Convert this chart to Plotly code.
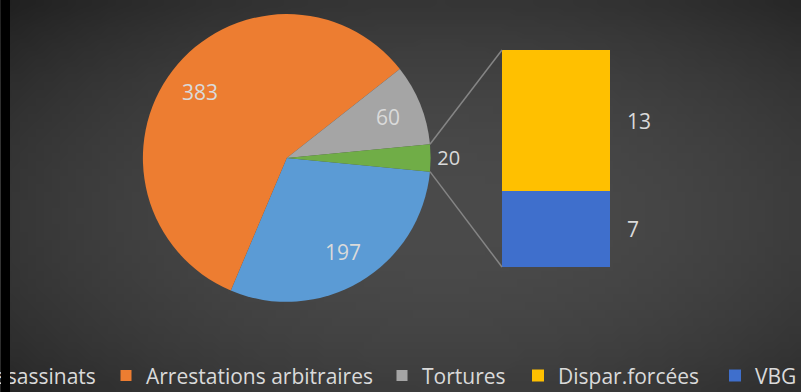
import math
import zlib
import struct
import base64
import plotly.graph_objects as go

W, H = 801, 392

# ---- data ----
pie_labels = ["Assassinats", "Arrestations arbitraires", "Tortures", "Autres"]
pie_values = [197, 383, 60, 20]
pie_colors = ["#5b9bd5", "#ed7d31", "#a5a5a5", "#70ad47"]

bar_labels = ["VBG", "Dispar.forcées"]
bar_values = [7, 13]
bar_colors = ["#3f6fcc", "#ffc000"]

legend_order = ["Assassinats", "Arrestations arbitraires", "Tortures", "Dispar.forcées", "VBG"]

FONT = "Open Sans, Calibri, sans-serif"
TXT = "#dadada"

# ---- layout geometry (styles / positions) ----
pie_dom_x = [0.178, 0.538]
pie_dom_y = [0.230, 0.964]
bar_dom_x = [0.6267, 0.7615]
bar_dom_y = [0.3189, 0.8724]
legend_x_px = [-56.5, 106, 382, 518, 715]
legend_y = 0.041
label_radius_frac = 0.76


def gradient_png(w, h):
    rows = []
    for j in range(h):
        row = bytearray()
        for i in range(w):
            dx = (i + 0.5) / w - 0.55
            dy = (j + 0.5) / h - 0.55
            d2 = (dx / 0.5) ** 2 + (dy / 0.5) ** 2
            g = int(max(30, min(80, 75 - 18 * d2)))
            row.append(g)
        rows.append(b"\x00" + bytes(row))
    raw = b"".join(rows)

    def chunk(t, d):
        return struct.pack(">I", len(d)) + t + d + struct.pack(">I", zlib.crc32(t + d) & 0xFFFFFFFF)

    data = (b"\x89PNG\r\n\x1a\n" + chunk(b"IHDR", struct.pack(">IIBBBBB", w, h, 8, 0, 0, 0, 0))
            + chunk(b"IDAT", zlib.compress(raw)) + chunk(b"IEND", b""))
    return "data:image/png;base64," + base64.b64encode(data).decode()


total = sum(pie_values)
other_deg = pie_values[-1] / total * 360.0
rotation = 90 + other_deg / 2.0  # "other" slice centred at 3 o'clock

cx = (pie_dom_x[0] + pie_dom_x[1]) / 2
cy = (pie_dom_y[0] + pie_dom_y[1]) / 2
r_px = min((pie_dom_x[1] - pie_dom_x[0]) * W, (pie_dom_y[1] - pie_dom_y[0]) * H) / 2

fig = go.Figure()

fig.add_trace(go.Pie(
    labels=pie_labels, values=pie_values, sort=False, direction="clockwise",
    rotation=rotation, domain=dict(x=pie_dom_x, y=pie_dom_y),
    marker=dict(colors=pie_colors, line=dict(width=0)),
    texttemplate=["", "", "", "%{value}"],
    textposition=["inside", "inside", "inside", "outside"],
    textfont=dict(family=FONT, size=20, color=TXT),
    showlegend=False, hoverinfo="label+value",
))

legend_names = {}
for k, lab in enumerate(legend_order):
    legend_names[lab] = "legend" if k == 0 else "legend%d" % (k + 1)

# legend-only entries for the pie categories
for lab, col in zip(pie_labels[:3], pie_colors[:3]):
    fig.add_trace(go.Scatter(
        x=[None], y=[None], mode="markers", name=lab,
        marker=dict(symbol="square", size=11, color=col),
        legend=legend_names[lab], xaxis="x", yaxis="y",
    ))

# stacked bar for the "other" slice
for lab, v, col in zip(bar_labels, bar_values, bar_colors):
    fig.add_trace(go.Bar(
        x=[0], y=[v], width=1, name=lab, marker=dict(color=col, line=dict(width=0)),
        legend=legend_names[lab], xaxis="x", yaxis="y", hoverinfo="name+y",
    ))

annotations = []

# pie value labels placed at the slice mid-angles
cum = 0
for lab, v in zip(pie_labels[:3], pie_values[:3]):
    mid_compass = rotation + (cum + v / 2.0) / total * 360.0
    th = math.radians(90 - mid_compass)
    annotations.append(dict(
        x=cx + label_radius_frac * r_px * math.cos(th) / W,
        y=cy + label_radius_frac * r_px * math.sin(th) / H,
        xref="paper", yref="paper", text=str(v), showarrow=False,
        xanchor="center", yanchor="middle",
        font=dict(family=FONT, size=21, color=TXT),
    ))
    cum += v

# bar value labels
cum = 0
for v in bar_values:
    annotations.append(dict(
        x=0.5, y=cum + v / 2.0, xref="x", yref="y", text=str(v),
        showarrow=False, xanchor="left", yanchor="middle", xshift=15,
        font=dict(family=FONT, size=21, color=TXT),
    ))
    cum += v

# black strip at left edge
annotations.append(dict(
    x=1 / W, y=0.5, xref="paper", yref="paper", text=" ", showarrow=False,
    xanchor="left", yanchor="middle", width=9, height=H + 4, bgcolor="#000000",
    borderpad=0, borderwidth=0,
))

# connector lines from the "other" slice to the bar
shapes = []
for sign, by in [(1, bar_dom_y[1]), (-1, bar_dom_y[0])]:
    th = math.radians(sign * other_deg / 2.0)
    px = cx + r_px * math.cos(th) / W
    py = cy + r_px * math.sin(th) / H
    shapes.append(dict(type="line", xref="paper", yref="paper",
                       x0=px, y0=py, x1=bar_dom_x[0], y1=by,
                       line=dict(color="#858585", width=1.5)))

legend_style = dict(orientation="h", xanchor="left", yanchor="middle", y=legend_y,
                    font=dict(family=FONT, size=21, color=TXT), bgcolor="rgba(0,0,0,0)")
legends = {}
for lab, xp in zip(legend_order, legend_x_px):
    legends[legend_names[lab]] = dict(legend_style, x=xp / W)

fig.update_layout(
    width=W, height=H,
    margin=dict(l=0, r=0, t=0, b=0, autoexpand=False),
    paper_bgcolor="#404040", plot_bgcolor="rgba(0,0,0,0)",
    barmode="stack",
    xaxis=dict(domain=bar_dom_x, range=[-0.5, 0.5], visible=False, fixedrange=True),
    yaxis=dict(domain=bar_dom_y, range=[0, sum(bar_values)], visible=False, fixedrange=True),
    showlegend=True,
    annotations=annotations, shapes=shapes,
    images=[dict(source=gradient_png(100, 50), xref="paper", yref="paper", x=0, y=1,
                 sizex=1, sizey=1, sizing="stretch", layer="below", xanchor="left", yanchor="top")],
    font=dict(family=FONT),
    **legends,
)

fig.write_html("out.html")
